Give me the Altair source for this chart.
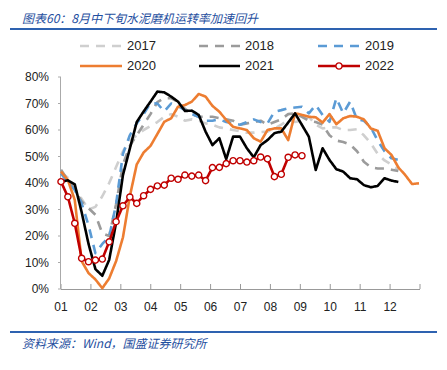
import altair as alt
import pandas as pd

years = ["2017", "2018", "2019", "2020", "2021", "2022"]

y2017 = [44, 42, 38, 34, 30, 31, 35, 40, 46, 52,
         56, 58, 60, 61.5, 63, 65, 66, 65, 63.5, 64,
         63.5, 62.5, 62, 61, 60.5, 60, 59.5, 59, 59, 59.2,
         59.4, 60.6, 62, 63.8, 63, 63.5, 65, 62, 60.6, 61,
         61, 60, 60, 60.3, 58, 55, 51, 48.5, 47, 45]
y2018 = [45, 41, 37.5, 33, 30.5, 28, 21, 20, 32, 47,
         54, 58, 62, 66, 70.5, 72, 72, 70.5, 68, 66,
         65, 65, 65, 64.5, 64, 63.5, 62, 62.5, 63, 63.5,
         62, 63, 64, 66, 66.3, 65, 63.5, 63, 62, 58,
         56, 55.5, 54.5, 52, 48, 46, 45.5, 45.5, 45, 44.5]
y2019 = [43.7, 40, 37.4, 32.3, 24, 13.5, 17, 19.7, 32, 51,
         58, 62.5, 66, 70.1, 70, 67, 70, 69, 67.5, 66,
         65, 63.5, 63.5, 64, 63, 62.5, 62, 63, 64, 63,
         62.5, 66.9, 67.5, 68.2, 68.5, 68.8, 66.3, 69.4, 65.7, 63.1,
         72, 66.3, 70.7, 64, 63.5, 61, 56, 52, 49.3, 48.7]
y2020 = [44.3, 41.1, 33.6, 10.5, 6, 3.6, 0.3, 4, 10.5, 19.5,
         35, 47, 51.5, 54, 58.5, 63.1, 64.4, 68.8, 69.4, 70.7,
         73.6, 72.6, 69.1, 66.9, 63.8, 61.2, 60.6, 60, 56.9, 55.6,
         60, 60.6, 60.6, 56.2, 66.3, 65.7, 65, 64.8, 62.8, 66,
         62.2, 64.4, 65.3, 65, 64, 60.6, 59.7, 53.1, 50.6, 45.9,
         43, 39.6, 39.9]
y2021 = [40.5, 41, 39.5, 29, 17, 7.5, 5, 11, 25, 43,
         53, 63, 67, 70.7, 74.5, 74.2, 72.6, 70.7, 67.2, 67.3,
         65.7, 59.4, 54.3, 56.9, 49, 57.5, 57.5, 53.1, 49.7, 54.3,
         56.2, 58.8, 59.4, 62.8, 66.3, 61.9, 57.5, 44.9, 53.1, 48.7,
         45.2, 44.3, 41.8, 41.4, 39.2, 38.4, 38.9, 41.8, 40.9, 40.4]
y2022 = [40.5, 34.8, 24.8, 11.6, 10.3, 10.9, 11.3, 17.8, 25.4, 31.4,
         34.7, 32.3, 35.2, 37.6, 38.9, 39.2, 41.8, 41.4, 43.0, 42.6,
         43.0, 40.9, 45.8, 45.9, 47.3, 48.4, 48.4, 47.9, 48.4, 49.8,
         49.1, 42.4, 43.3, 49.7, 50.6, 50.3]

month_ticks = list(range(0, 13))
month_labels = ["01", "02", "03", "04", "05", "06", "07", "08", "09", "10", "11", "12", ""]
y_ticks = list(range(0, 81, 10))

series = dict(zip(years, [y2017, y2018, y2019, y2020, y2021, y2022]))
rows = []
for yr, vals in series.items():
    for i, v in enumerate(vals):
        rows.append({"year": yr, "week": i + 1, "value": v})
df = pd.DataFrame(rows)

colors = {"2017": "#cfcfcf", "2018": "#9b9b9b", "2019": "#5b9bd5",
          "2020": "#ed7d31", "2021": "#000000", "2022": "#c00000"}
dashes = {"2017": [9, 7], "2018": [9, 7], "2019": [9, 7],
          "2020": [1, 0], "2021": [1, 0], "2022": [1, 0]}

W, H = 359, 212
FONT = "Liberation Sans"
CJK = "Noto Sans CJK SC"
BLUE = "#1f4fa0"

xscale = alt.Scale(domain=[0, 12], nice=False, zero=False)
yscale = alt.Scale(domain=[0, 80], nice=False)

base = alt.Chart(df).transform_calculate(
    m="(datum.week - 1) * 7 / 30.42"
)

layers = []

# x axis line, inward ticks and month labels
mt = pd.DataFrame({"m": month_ticks, "lab": month_labels})
layers.append(alt.Chart(mt).mark_rule(color="#999999", strokeWidth=1).encode(
    x=alt.X("m:Q", scale=xscale, axis=None),
    y=alt.value(H), y2=alt.value(H - 5)))
layers.append(alt.Chart(mt).mark_rule(color="#999999", strokeWidth=1).encode(
    x=alt.value(0), x2=alt.value(W), y=alt.value(H + 0.5)))
layers.append(alt.Chart(mt).mark_text(
    font=FONT, fontSize=12, color="#222222", baseline="middle", align="center").encode(
    x=alt.X("m:Q", scale=xscale, axis=None), y=alt.value(H + 18), text="lab:N"))

# y axis
yt = pd.DataFrame({"v": y_ticks})
yt["lab"] = [f"{v}%" for v in y_ticks]
layers.append(alt.Chart(yt).mark_rule(color="#aaaaaa", strokeWidth=1).encode(
    y=alt.Y("v:Q", scale=yscale, axis=None), x=alt.value(-3), x2=alt.value(0)))
layers.append(alt.Chart(yt).mark_rule(color="#aaaaaa", strokeWidth=1).encode(
    x=alt.value(-0.5), y=alt.value(0), y2=alt.value(H)))
layers.append(alt.Chart(yt).mark_text(
    font=FONT, fontSize=12, color="#222222", baseline="middle", align="right").encode(
    y=alt.Y("v:Q", scale=yscale, axis=None), x=alt.value(-12), text="lab:N"))

for yr in years:
    ln = base.transform_filter(alt.datum.year == yr).mark_line(
        color=colors[yr], strokeWidth=2.6, strokeDash=dashes[yr],
        strokeJoin="round").encode(
        x=alt.X("m:Q", scale=xscale, axis=None),
        y=alt.Y("value:Q", scale=yscale, axis=None),
    )
    layers.append(ln)
    if yr == "2022":
        pts = base.transform_filter(alt.datum.year == yr).mark_point(
            shape="circle", filled=True, fill="white", stroke=colors[yr],
            strokeWidth=1.4, size=38, opacity=1).encode(
            x=alt.X("m:Q", scale=xscale, axis=None),
            y=alt.Y("value:Q", scale=yscale, axis=None),
        )
        layers.append(pts)

# legend
col_x1 = [19, 138, 257]
col_x2 = [61, 179, 299]
row_y = [-31, -11]
for k, yr in enumerate(years):
    c, r = k % 3, k // 3
    ldf = pd.DataFrame({"label": [yr]})
    lc = alt.Chart(ldf)
    layers.append(lc.mark_rule(color=colors[yr], strokeWidth=2.6,
                               strokeDash=dashes[yr]).encode(
        x=alt.value(col_x1[c]), x2=alt.value(col_x2[c]), y=alt.value(row_y[r])))
    if yr == "2022":
        layers.append(lc.mark_point(shape="circle", filled=True, fill="white",
                                    stroke=colors[yr], strokeWidth=1.4, size=38,
                                    opacity=1).encode(
            x=alt.value((col_x1[c] + col_x2[c]) / 2), y=alt.value(row_y[r])))
    layers.append(lc.mark_text(align="left", baseline="middle", font=FONT,
                               fontSize=13, color="#222222").encode(
        x=alt.value(col_x2[c] + 5), y=alt.value(row_y[r]), text="label:N"))

# title, rules, source
tdf = pd.DataFrame({"t": ["图表60：8月中下旬水泥磨机运转率加速回升"]})
layers.append(alt.Chart(tdf).mark_text(
    align="left", baseline="middle", font=CJK, fontSize=12, fontStyle="italic",
    color=BLUE).encode(x=alt.value(-39), y=alt.value(-58), text="t:N"))
layers.append(alt.Chart(tdf).mark_rule(color="#2e62b0", strokeWidth=2).encode(
    x=alt.value(-51), x2=alt.value(376), y=alt.value(-48)))
layers.append(alt.Chart(tdf).mark_rule(color="#2e62b0", strokeWidth=2).encode(
    x=alt.value(-51), x2=alt.value(376), y=alt.value(255)))
sdf = pd.DataFrame({"t": ["资料来源：Wind，国盛证券研究所"]})
layers.append(alt.Chart(sdf).mark_text(
    align="left", baseline="middle", font=CJK, fontSize=12, fontStyle="italic",
    color=BLUE).encode(x=alt.value(-39), y=alt.value(267), text="t:N"))

chart = alt.layer(*layers).properties(
    width=W, height=H,
    padding={"left": 53, "top": 69, "right": 19, "bottom": 73},
    autosize=alt.AutoSizeParams(type="none"),
    background="white",
).configure_view(stroke=None)

chart.save("out.html", embed_options={"renderer": "svg", "actions": False})
